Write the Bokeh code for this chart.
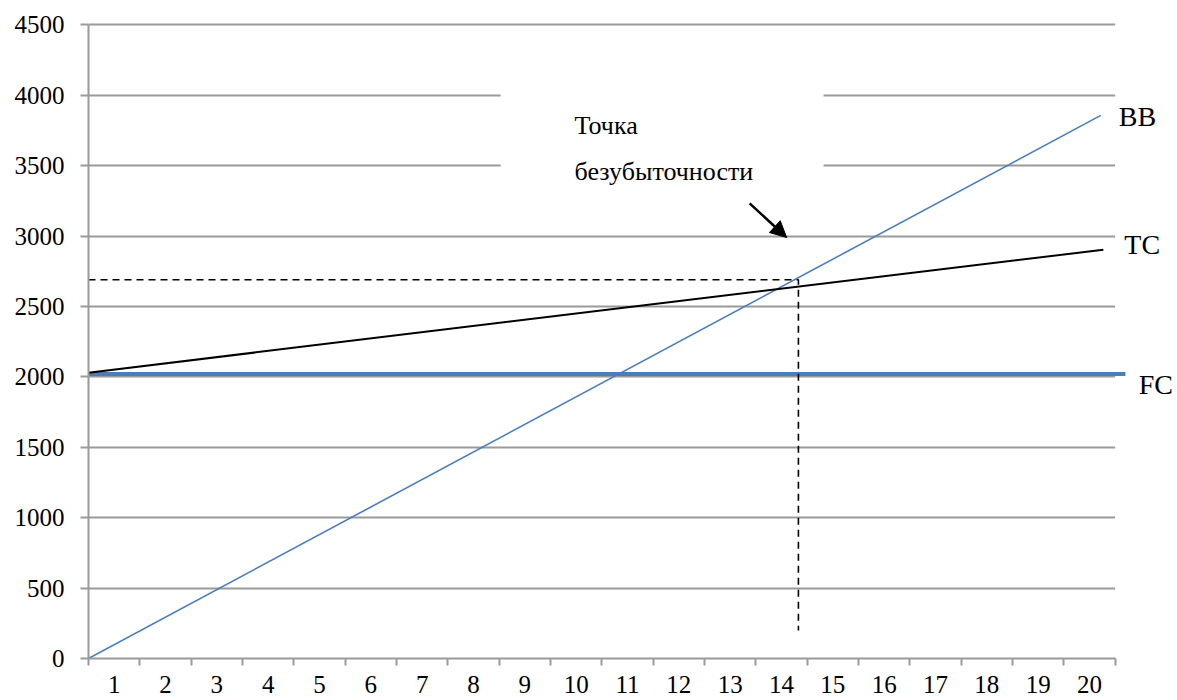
from bokeh.plotting import figure
from bokeh.models import FixedTicker, Range1d, Arrow, NormalHead
from bokeh.core.properties import value
from bokeh.embed import file_html
from bokeh.resources import INLINE

# Output volume categories shown under the horizontal axis
quantity_labels = [str(i) for i in range(1, 21)]
revenue_ticks = [0, 500, 1000, 1500, 2000, 2500, 3000, 3500, 4000, 4500]

# Lines in axis units (category scale: left edge 0, right edge 20)
bb_x = [0, 19.72]          # revenue (BB)
bb_y = [0, 3857]
tc_x = [0, 19.77]          # total costs (TC)
tc_y = [2030, 2903]
fc_x = [0, 20.2]           # fixed costs (FC)
fc_y = [2020, 2020]

# Break-even guide lines
be_x = [0, 13.83, 13.83]
be_y = [2690, 2690, 199]

SERIF = "'Liberation Serif', 'Times New Roman', serif"
GRID = "#9a9a9a"

p = figure(width=1177, height=700, output_backend="svg", toolbar_location=None,
           x_range=Range1d(0, 21.215), y_range=Range1d(0, 4602),
           min_border_left=88, min_border_right=0, min_border_top=10,
           min_border_bottom=42)
p.outline_line_color = None
p.background_fill_color = "white"
p.border_fill_color = "white"

# Horizontal axis: category labels centred between tick marks
xa = p.xaxis[0]
xa.ticker = FixedTicker(ticks=[i + 0.5 for i in range(20)],
                        minor_ticks=list(range(21)))
xa.major_label_overrides = {i + 0.5: lab for i, lab in enumerate(quantity_labels)}
xa.bounds = (0, 20)
xa.axis_line_color = GRID
xa.axis_line_width = 2
xa.major_tick_in = 0
xa.major_tick_out = 0
xa.minor_tick_in = 0
xa.minor_tick_out = 7
xa.minor_tick_line_color = GRID
xa.minor_tick_line_width = 2
xa.major_label_standoff = 10
xa.major_label_text_font = SERIF
xa.major_label_text_font_size = "25px"
xa.major_label_text_color = "black"

ya = p.yaxis[0]
ya.ticker = FixedTicker(ticks=revenue_ticks, minor_ticks=[])
ya.bounds = (0, 4500)
ya.axis_line_color = GRID
ya.axis_line_width = 2
ya.major_tick_in = 0
ya.major_tick_out = 8
ya.major_tick_line_color = GRID
ya.major_tick_line_width = 2
ya.minor_tick_out = 0
ya.minor_tick_in = 0
ya.major_label_standoff = 16
ya.major_label_text_font = SERIF
ya.major_label_text_font_size = "25px"
ya.major_label_text_color = "black"

p.xgrid.visible = False
p.ygrid.ticker = FixedTicker(ticks=revenue_ticks[1:])
p.ygrid.grid_line_color = GRID
p.ygrid.grid_line_width = 2

# Blank areas: behind the caption and to the right of the plot area
p.quad(left=[8.03, 20.0], right=[14.32, 21.3], bottom=[3300, -100],
       top=[4200, 4700], fill_color="white", line_color=None)

# Data lines
p.line(fc_x, fc_y, line_color="#4a7ebb", line_width=4)
p.line(bb_x, bb_y, line_color="#4a7ebb", line_width=1.6)
p.line(tc_x, tc_y, line_color="black", line_width=2)
p.line(be_x, be_y, line_color="black", line_width=1.6, line_dash="7 5")

# Series labels
p.text(x=[20.07, 20.18, 20.46], y=[3849, 2940, 1946], text=["BB", "TC", "FC"],
       text_font=value(SERIF), text_font_size="28px", text_color="black",
       text_baseline="alphabetic", text_align="left")

# Caption for the break-even point
p.text(x=[9.47, 9.47], y=[3786, 3462], text=["Точка", "безубыточности"],
       text_font=value(SERIF), text_font_size="26px", text_color="black",
       text_baseline="alphabetic", text_align="left")

p.add_layout(Arrow(end=NormalHead(size=16, fill_color="black", line_color="black"),
                   x_start=12.88, y_start=3232, x_end=13.6, y_end=2990,
                   line_color="black", line_width=2.5))

open("out.html", "w").write(file_html(p, INLINE))
